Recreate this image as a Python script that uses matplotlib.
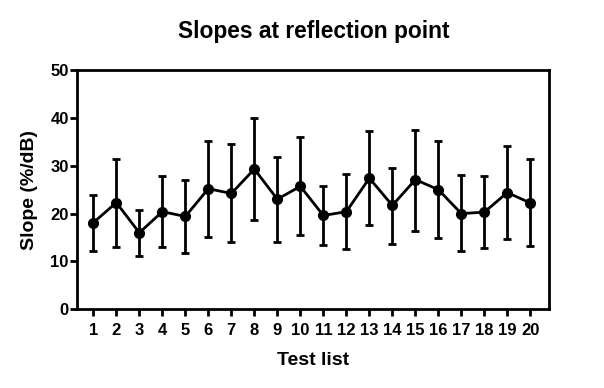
import matplotlib
matplotlib.use("Agg")
import matplotlib.pyplot as plt

test_lists = list(range(1, 21))
slope_mean = [18.1, 22.3, 16.0, 20.4, 19.4, 25.2, 24.2, 29.3, 23.0, 25.7,
              19.6, 20.4, 27.4, 21.7, 27.1, 25.0, 20.0, 20.3, 24.4, 22.2]
slope_upper = [23.9, 31.5, 20.7, 27.8, 27.0, 35.2, 34.5, 39.9, 31.8, 35.9,
               25.7, 28.2, 37.3, 29.6, 37.5, 35.2, 28.0, 27.8, 34.1, 31.4]
slope_lower = [12.2, 13.1, 11.2, 13.1, 11.8, 15.1, 14.1, 18.7, 14.1, 15.5,
               13.4, 12.7, 17.6, 13.7, 16.4, 14.8, 12.1, 12.8, 14.7, 13.2]
y_ticks = [0, 10, 20, 30, 40, 50]

plt.rcParams['font.family'] = ['Liberation Sans', 'DejaVu Sans']
plt.rcParams['font.weight'] = 'bold'

fig = plt.figure(figsize=(6.04, 3.88), dpi=100)
ax = fig.add_axes([77/604, 1-309.3/388, (549-77)/604, (309.3-70)/388])

lw = 2.0
yerr = [[m - l for m, l in zip(slope_mean, slope_lower)],
        [u - m for m, u in zip(slope_mean, slope_upper)]]
ax.errorbar(test_lists, slope_mean, yerr=yerr, color='black', lw=lw,
            marker='o', markersize=7, capsize=3, capthick=lw, elinewidth=lw)

ax.set_xlim(0.29, 20.81)
ax.set_ylim(0, 50)
ax.set_yticks(y_ticks)
ax.set_xticks(test_lists)
ax.set_xticklabels([str(t) for t in test_lists])
for s in ax.spines.values():
    s.set_linewidth(lw)
ax.tick_params(axis='both', direction='out', width=lw, length=5, labelsize=12)
ax.tick_params(axis='y', pad=1)
ax.tick_params(axis='x', pad=5)
for lab in ax.get_xticklabels() + ax.get_yticklabels():
    lab.set_fontweight('bold')

ax.set_xlabel('Test list', fontsize=14, fontweight='bold', labelpad=10)
ax.set_ylabel('Slope (%/dB)', fontsize=14, fontweight='bold', labelpad=9)
fig.text(314/604, 1-38.3/388, 'Slopes at reflection point', fontsize=16.4,
         fontweight='bold', ha='center', va='baseline')

fig.savefig('out.png', dpi=100)
